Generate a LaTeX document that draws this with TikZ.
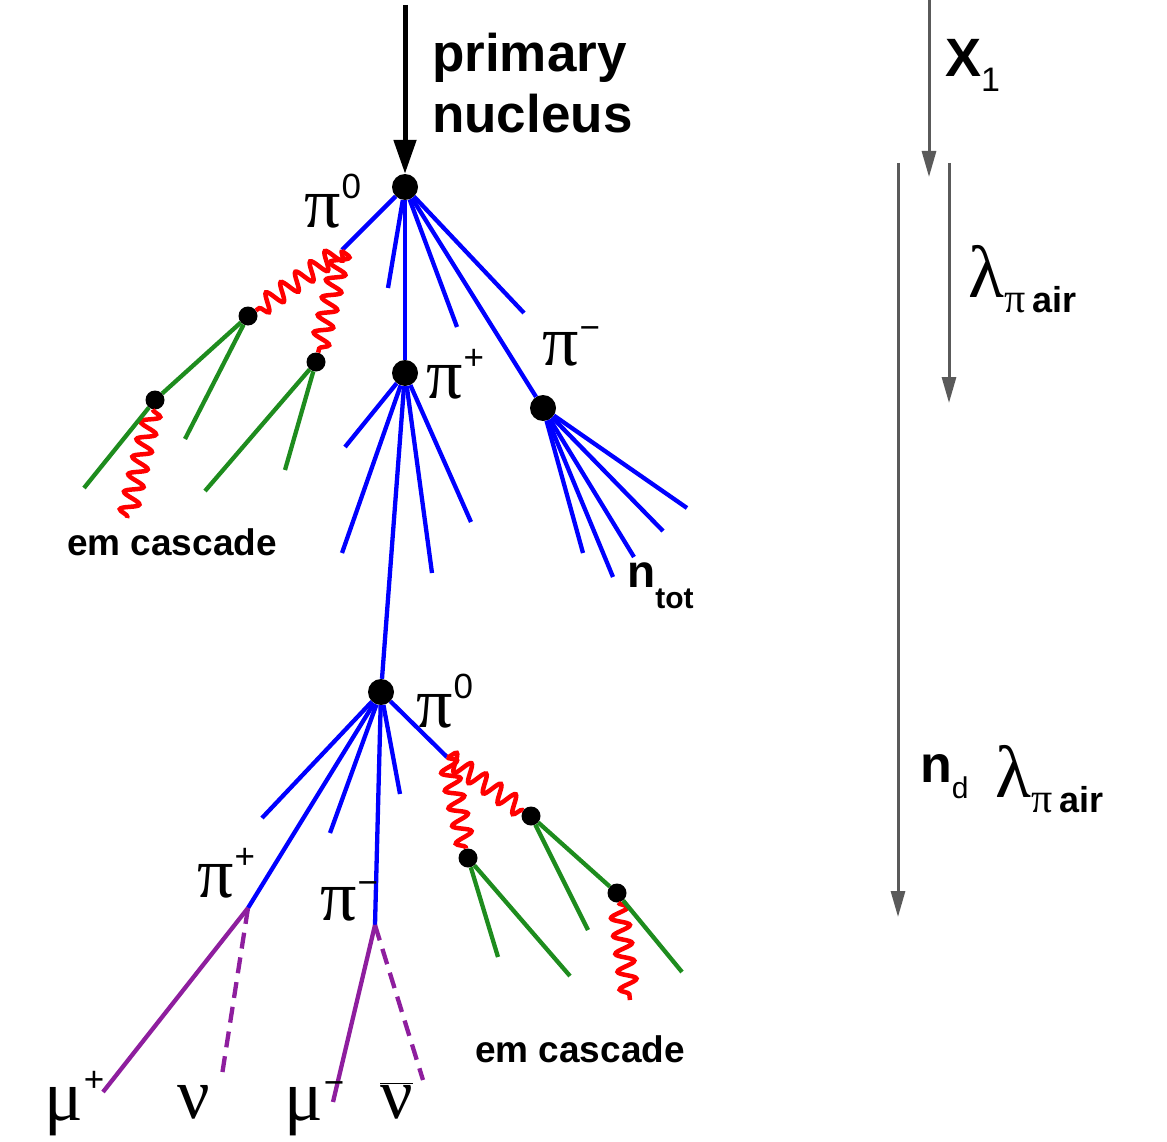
\RequirePackage{fix-cm}
\documentclass[tikz,border=0pt]{standalone}
\usepackage{fontspec}
\setmainfont{Liberation Sans}
\newfontfamily\greek{Liberation Serif}
\usetikzlibrary{arrows.meta,decorations.pathmorphing}
\definecolor{pionblue}{HTML}{0000FF}
\definecolor{gammared}{HTML}{FF0000}
\definecolor{pairgreen}{HTML}{1E8C1E}
\definecolor{muonpurple}{HTML}{8E1E9E}
\definecolor{axisgray}{HTML}{5A5A5A}
\newcommand{\bigfont}[1]{\fontsize{#1}{#1}\selectfont}
\newcommand{\charge}[2][29pt]{\kern1pt\raisebox{#1}{\normalfont\bigfont{35}#2}}
\newcommand{\lampiair}{{\bigfont{74}\greek λ}\raisebox{-15pt}{\bigfont{42}\greek π\hspace{7pt}{\bigfont{36}\normalfont\bfseries air}}}

\begin{document}
\begin{tikzpicture}[
    x=1pt, y=-1pt,
    vtx/.style={circle, fill=black, inner sep=0pt, minimum size=26pt},
    hit/.style={circle, fill=black, inner sep=0pt, minimum size=19pt},
    hadron/.style={draw=pionblue, line width=4.3pt},
    pair/.style={draw=pairgreen, line width=4.3pt},
    lepton/.style={draw=muonpurple, line width=4.3pt},
    nulepton/.style={lepton, dash pattern=on 16pt off 9pt},
    photon/.style={draw=gammared, line width=4.5pt, decorate, decoration={snake, amplitude=9pt, segment length=18pt}},
    depth/.style={draw=axisgray, line width=3pt, -{Triangle[length=26pt, width=14pt]}},
    particle/.style={inner sep=0pt, anchor=base west, font=\bigfont{72}\greek},
    lbl/.style={inner sep=0pt, font=\bigfont{37}\bfseries}
]
\useasboundingbox (0,0) rectangle (1167,1142);

% interaction vertices
\node[vtx] (v1) at (405,187) {};
\node[vtx] (v2) at (405,373) {};
\node[vtx] (v3) at (543,408) {};
\node[vtx] (v4) at (381,692) {};
% pair production points
\node[hit] (g1) at (248,316) {};
\node[hit] (g2) at (316,362) {};
\node[hit] (g3) at (155,400) {};
\node[hit] (g4) at (531,816) {};
\node[hit] (g5) at (468,858) {};
\node[hit] (g6) at (617,893) {};

\coordinate (pizA) at (342,250);
\coordinate (pizB) at (447,757);
\coordinate (pipA) at (248,908);
\coordinate (pimA) at (375,925);

% primary
\coordinate (beam) at (405,5);
\draw[line width=5pt, -{Triangle[length=34pt, width=22pt]}] (beam) -- (v1);
\node[anchor=base west, inner sep=0pt, font=\bigfont{53}\bfseries] (prim) at (432,72) {primary};
\node[anchor=base west, inner sep=0pt, font=\bigfont{53}\bfseries] (nucl) at (432,133) {nucleus};

% hadrons
\draw[hadron] (v1) -- (pizA);
\draw[hadron] (v1) -- (v2);
\draw[hadron] (v1) -- (v3);
\foreach \n/\x/\y in {a/388/288, b/457/327, c/524/313}
  {\coordinate (h1\n) at (\x,\y); \draw[hadron] (v1) -- (h1\n);}
\draw[hadron] (v2) -- (v4);
\foreach \n/\x/\y in {a/345/447, b/342/553, c/432/573, d/471/522}
  {\coordinate (h2\n) at (\x,\y); \draw[hadron] (v2) -- (h2\n);}
\foreach \n/\x/\y in {a/583/553, b/613/577, c/634/557, d/663/531, e/687/508}
  {\coordinate (h3\n) at (\x,\y); \draw[hadron] (v3) -- (h3\n);}
\draw[hadron] (v4) -- (pizB);
\draw[hadron] (v4) -- (pipA);
\draw[hadron] (v4) -- (pimA);
\foreach \n/\x/\y in {a/262/818, b/330/833, c/400/794}
  {\coordinate (h4\n) at (\x,\y); \draw[hadron] (v4) -- (h4\n);}

% em part
\coordinate (em1) at (127,518);
\coordinate (em2) at (630,1000);
\draw[photon] (pizA) -- (g1);
\draw[photon] (pizA) -- (g2);
\draw[photon] (g3) -- (em1);
\draw[photon] (pizB) -- (g4);
\draw[photon] (pizB) -- (g5);
\draw[photon] (g6) -- (em2);
\draw[pair] (g1) -- (g3);
\draw[pair] (g4) -- (g6);
\foreach \s/\n/\x/\y in {g3/a/84/488, g1/b/185/439, g2/c/205/491, g2/d/285/470,
                         g6/e/682/972, g4/f/588/930, g5/g/498/957, g5/h/570/976}
  {\coordinate (e\n) at (\x,\y); \draw[pair] (\s) -- (e\n);}

% decays
\coordinate (mup) at (103,1092);
\coordinate (nu) at (222,1075);
\coordinate (mum) at (333,1102);
\coordinate (nubar) at (423,1080);
\draw[lepton] (pipA) -- (mup);
\draw[nulepton] (pipA) -- (nu);
\draw[lepton] (pimA) -- (mum);
\draw[nulepton] (pimA) -- (nubar);

% particle labels
\node[particle] (lpiz1) at (304,228) {π\charge{0}};
\node[particle] (lpip1) at (426,398) {π\charge{+}};
\node[particle] (lpim1) at (542,365) {π\charge[26pt]{−}};
\node[particle] (lpiz2) at (416,727) {π\charge{0}};
\node[particle] (lpip2) at (197,897) {π\charge{+}};
\node[particle] (lpim2) at (320,920) {π\charge[26pt]{−}};
\node[particle] (lmup) at (44,1120) {μ\charge{+}};
\node[particle] (lnu) at (177,1118) {ν};
\node[particle] (lmum) at (284,1120) {μ\charge[26pt]{−}};
\node[particle] (lnubar) at (380,1118) {$\overline{\hbox{\greek ν}}$};

\node[lbl, anchor=base] (emc1) at (172,555) {em cascade};
\node[lbl, anchor=base] (emc2) at (580,1062) {em cascade};
\node[lbl, anchor=base west, font=\bigfont{46}\bfseries] (ntot) at (627,587) {n\raisebox{-21pt}{\bigfont{30}tot}};

% depth scale
\coordinate (x1top) at (929,0);
\coordinate (x1bot) at (929,177);
\coordinate (lamtop) at (949,163);
\coordinate (lambot) at (949,403);
\coordinate (ndtop) at (898,163);
\coordinate (ndbot) at (898,917);
\draw[depth] (x1top) -- (x1bot);
\draw[depth] (lamtop) -- (lambot);
\draw[depth] (ndtop) -- (ndbot);
\node[anchor=base west, inner sep=0pt, font=\bigfont{54}\bfseries] (xone) at (945,77) {X\raisebox{-15pt}{\bigfont{34}\mdseries 1}};
\node[anchor=base west, inner sep=0pt] (lam1) at (968,297) {\lampiair};
\node[anchor=base west, inner sep=0pt, font=\bigfont{52}\bfseries] (nd) at (920,782) {n\raisebox{-16pt}{\bigfont{30}\mdseries d}};
\node[anchor=base west, inner sep=0pt] (lam2) at (995,797) {\lampiair};
\end{tikzpicture}
\end{document}
